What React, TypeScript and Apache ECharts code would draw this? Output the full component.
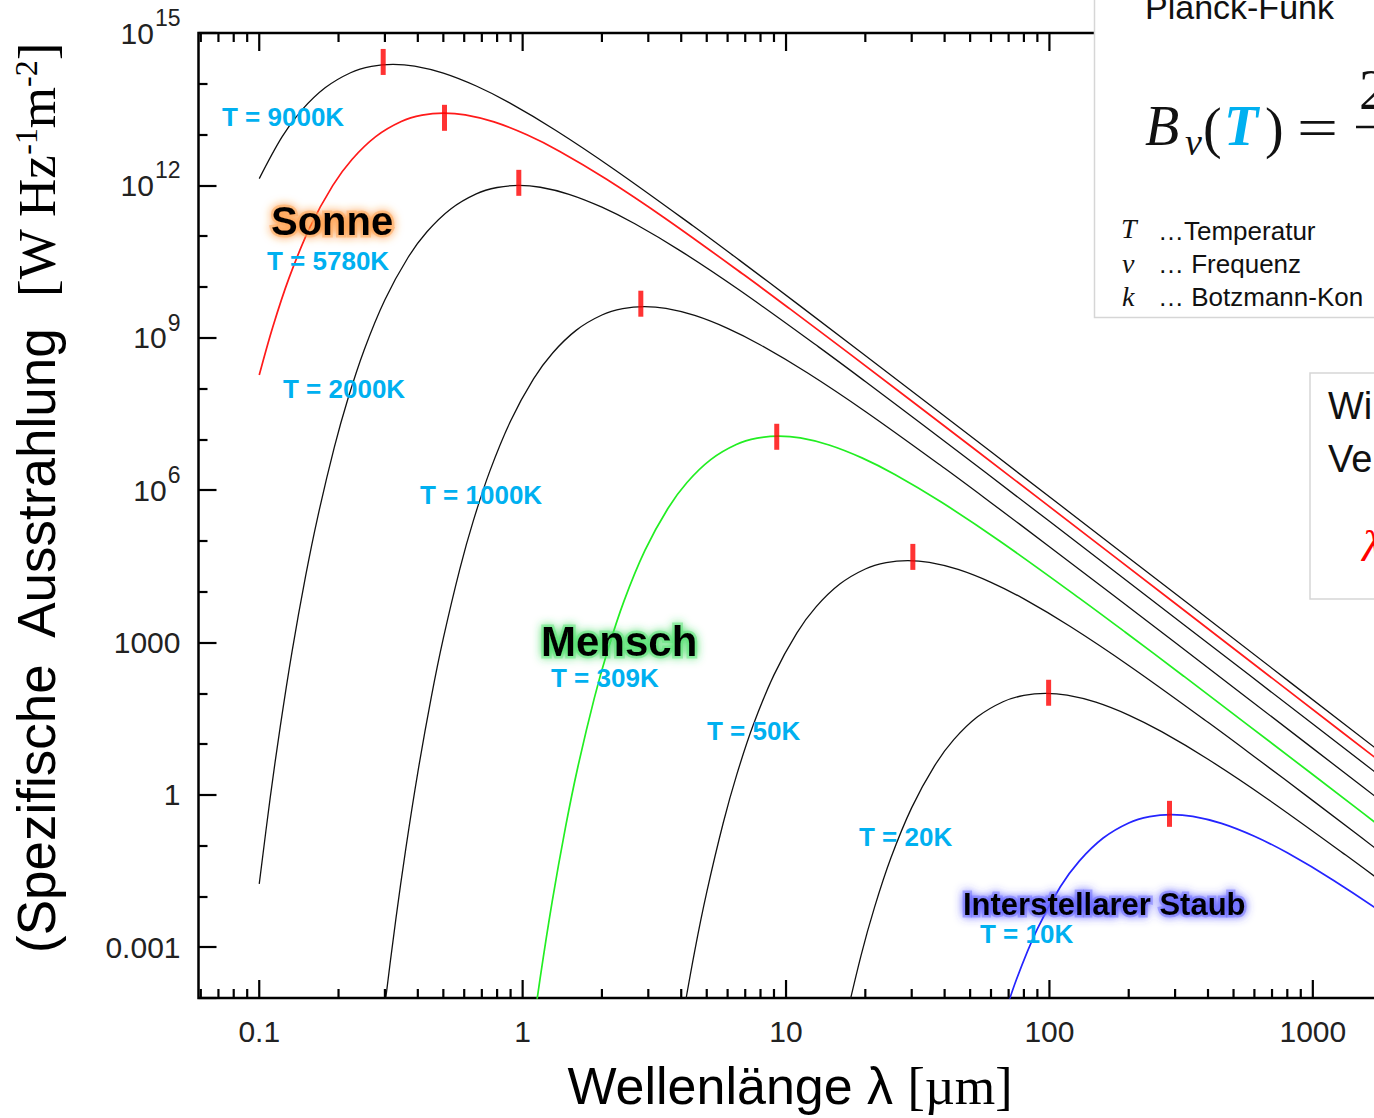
import React, { useEffect, useRef } from 'react';
import * as echarts from 'echarts';

// ---- axis ranges (wavelength in µm, radiance as exponent of 10) ----
const X_RANGE_UM = [0.0588, 3000];
const Y_RANGE_EXP = [-4, 15];

const xTickLabels: Record<string, string> = { '-1': '0.1', '0': '1', '1': '10', '2': '100', '3': '1000' };
const yPlainLabels: Record<string, string> = { '-3': '0.001', '0': '1', '3': '1000' };
const xMajorTicks = [0.1, 1, 10, 100, 1000];
const xMinorTicks = [
  0.06, 0.07, 0.08, 0.09,
  0.2, 0.3, 0.4, 0.5, 0.6, 0.7, 0.8, 0.9,
  2, 3, 4, 5, 6, 7, 8, 9,
  20, 30, 40, 50, 60, 70, 80, 90,
  200, 300, 400, 500, 600, 700, 800, 900,
  2000, 3000,
];

// ---- curves: wavelength (µm) and log10 of spectral radiance ----
const lam9000 = [0.1, 0.1222, 0.1444, 0.1778, 0.2222, 0.2667, 0.3222, 0.3889, 0.5, 0.6667, 0.8889, 1.333, 2.222, 4.444, 6.667, 11.11, 33.33, 111.1, 333.3, 3333];
const logB9000 = [12.133, 12.96, 13.471, 13.921, 14.218, 14.343, 14.383, 14.348, 14.21, 13.956, 13.629, 13.086, 12.319, 11.2, 10.523, 9.657, 7.77, 5.686, 3.78, -0.22];

const lam5780 = [0.1, 0.1125, 0.1298, 0.1557, 0.1903, 0.2249, 0.2768, 0.346, 0.4152, 0.5017, 0.6055, 0.7785, 1.038, 1.384, 2.076, 3.46, 6.92, 10.38, 17.3, 51.9, 173, 519, 5190];
const logB5780 = [8.265, 9.208, 10.179, 11.172, 11.999, 12.51, 12.96, 13.257, 13.382, 13.422, 13.387, 13.249, 12.995, 12.668, 12.125, 11.358, 10.239, 9.562, 8.696, 6.809, 4.725, 2.818, -1.181];

const lam3000 = [0.1, 0.11, 0.12, 0.1333, 0.15, 0.1667, 0.1927, 0.2167, 0.25, 0.3, 0.3667, 0.4333, 0.5333, 0.6667, 0.8, 0.9667, 1.167, 1.5, 2, 2.667, 4, 6.667, 13.33, 20, 33.33, 100, 333.3, 1000, 10000];
const logB3000 = [-1.753, -0.066, 1.323, 2.83, 4.31, 5.47, 6.841, 7.784, 8.755, 9.748, 10.575, 11.086, 11.536, 11.833, 11.958, 11.998, 11.963, 11.825, 11.571, 11.244, 10.701, 9.934, 8.815, 8.138, 7.272, 5.385, 3.301, 1.394, -2.605];

const lam1000 = [0.28, 0.3, 0.33, 0.36, 0.4, 0.45, 0.5, 0.578, 0.65, 0.75, 0.9, 1.1, 1.3, 1.6, 2, 2.4, 2.9, 3.5, 4.5, 6, 8, 12, 20, 40, 60, 100, 300, 1000, 3000];
const logB1000 = [-5.476, -4.139, -2.452, -1.063, 0.444, 1.924, 3.084, 4.455, 5.398, 6.369, 7.362, 8.189, 8.7, 9.15, 9.447, 9.572, 9.612, 9.577, 9.439, 9.185, 8.858, 8.315, 7.548, 6.429, 5.752, 4.886, 2.999, 0.915, -0.992];

const lam309 = [1.068, 1.165, 1.294, 1.456, 1.618, 1.871, 2.104, 2.427, 2.913, 3.56, 4.207, 5.178, 6.472, 7.767, 9.385, 11.33, 14.56, 19.42, 25.89, 38.83, 64.72, 129.4, 194.2, 323.6, 970.9, 3236];
const logB309 = [-5.002, -3.613, -2.106, -0.626, 0.534, 1.905, 2.848, 3.819, 4.812, 5.639, 6.15, 6.6, 6.897, 7.022, 7.062, 7.027, 6.889, 6.635, 6.308, 5.765, 4.998, 3.879, 3.202, 2.336, 0.449, -1.635];

const lam100 = [4, 4.5, 5, 5.78, 6.5, 7.5, 9, 11, 13, 16, 20, 24, 29, 35, 45, 60, 80, 120, 200, 400, 600, 1000, 3000];
const logB100 = [-4.556, -3.076, -1.916, -0.545, 0.398, 1.369, 2.362, 3.189, 3.7, 4.15, 4.447, 4.572, 4.612, 4.577, 4.439, 4.185, 3.858, 3.315, 2.548, 1.429, 0.752, -0.114, -2.001];

const lam30 = [16.67, 19.27, 21.67, 25, 30, 36.67, 43.33, 53.33, 66.67, 80, 96.67, 116.7, 150, 200, 266.7, 400, 666.7, 1333, 2000, 3333];
const logB30 = [-4.53, -3.159, -2.216, -1.245, -0.252, 0.575, 1.086, 1.536, 1.833, 1.958, 1.998, 1.963, 1.825, 1.571, 1.244, 0.701, -0.066, -1.185, -1.862, -2.728];

const lam10 = [65, 75, 90, 110, 130, 160, 200, 240, 290, 350, 450, 600, 800, 1200, 2000, 4000];
const logB10 = [-4.602, -3.631, -2.638, -1.811, -1.3, -0.85, -0.553, -0.428, -0.388, -0.423, -0.561, -0.815, -1.142, -1.685, -2.452, -3.571];

// ---- red peak markers ----
const peakLam = [0.2955, 0.505, 0.967, 2.81, 9.22, 30.3, 99.3, 285.7];
const peakLogB = [14.43, 13.33, 12.05, 9.67, 7.05, 4.685, 2.01, -0.374];

const curveDefs = [
  { name: '9000K', lam: lam9000, logB: logB9000, color: '#111111', width: 1.3 },
  { name: '5780K', lam: lam5780, logB: logB5780, color: '#ff1a1a', width: 1.7 },
  { name: '3000K', lam: lam3000, logB: logB3000, color: '#111111', width: 1.3 },
  { name: '1000K', lam: lam1000, logB: logB1000, color: '#111111', width: 1.3 },
  { name: '309K', lam: lam309, logB: logB309, color: '#22ee22', width: 1.7 },
  { name: '100K', lam: lam100, logB: logB100, color: '#111111', width: 1.3 },
  { name: '30K', lam: lam30, logB: logB30, color: '#111111', width: 1.3 },
  { name: '10K', lam: lam10, logB: logB10, color: '#2424ff', width: 1.7 },
];

const SANS = "'Liberation Sans', Arial, Helvetica, sans-serif";
const SERIF = "'Liberation Serif', 'Times New Roman', serif";
const CYAN = '#00B0F0';

const X_MIN = Math.log10(X_RANGE_UM[0]);
const X_MAX = Math.log10(X_RANGE_UM[1]);

function tickSeries(vals: number[], len: number) {
  return {
    type: 'custom',
    silent: true,
    clip: false,
    z: 4,
    data: vals.map((v) => [Math.log10(v), Y_RANGE_EXP[0]]),
    renderItem: (_p: any, api: any) => {
      const x = api.value(0);
      const b = api.coord([x, Y_RANGE_EXP[0]]);
      const t = api.coord([x, Y_RANGE_EXP[1]]);
      return {
        type: 'group',
        children: [
          { type: 'line', shape: { x1: b[0], y1: b[1], x2: b[0], y2: b[1] - len }, style: { stroke: '#000', lineWidth: 2.2 } },
          { type: 'line', shape: { x1: t[0], y1: t[1], x2: t[0], y2: t[1] + len }, style: { stroke: '#000', lineWidth: 2.2 } },
        ],
      };
    },
  };
}

function txt(text: string, x: number, y: number, font: string, fill: string, extra: any = {}, el: any = {}) {
  return {
    type: 'text',
    x,
    y,
    z: 60,
    silent: true,
    ...el,
    style: {
      text,
      x: 0,
      y: 0,
      font,
      fill,
      align: 'left',
      verticalAlign: 'middle',
      textAlign: 'left',
      textVerticalAlign: 'middle',
      ...extra,
    },
  };
}

function glowText(text: string, x: number, y: number, size: number, glow: string, halo: string) {
  const font = `bold ${size}px ${SANS}`;
  return txt(text, x, y, font, '#000', {
    stroke: halo,
    lineWidth: 5,
    lineHeight: Math.round(size * 0.85),
    textShadowColor: glow,
    textShadowBlur: 10,
    shadowColor: glow,
    shadowBlur: 10,
  });
}

const tLabels = [
  { t: 'T = 9000K', x: 222, y: 117 },
  { t: 'T = 5780K', x: 267, y: 261 },
  { t: 'T = 2000K', x: 283, y: 389 },
  { t: 'T = 1000K', x: 420, y: 495 },
  { t: 'T = 309K', x: 551, y: 678 },
  { t: 'T = 50K', x: 707, y: 731 },
  { t: 'T = 20K', x: 859, y: 837 },
  { t: 'T = 10K', x: 980, y: 934 },
];

function buildGraphic() {
  const g: any[] = [];
  g.push(glowText('Sonne', 271, 221, 40, '#ff8a20', 'rgba(255,170,90,0.55)'));
  g.push(glowText('Mensch', 541, 641, 42, '#2fd850', 'rgba(90,230,120,0.5)'));
  g.push(glowText('Interstellarer Staub', 963, 904, 31, '#4040ff', 'rgba(110,110,255,0.5)'));
  tLabels.forEach((l) => g.push(txt(l.t, l.x, l.y, `bold 26px ${SANS}`, CYAN, { lineHeight: 24 })));

  // Planck box
  g.push({ type: 'rect', z: 50, silent: true, shape: { x: 1094.5, y: -10, width: 420, height: 327.5 }, style: { fill: '#fff', stroke: '#d6d6d6', lineWidth: 1.5 } });
  g.push(txt('Planck-Funk', 1145, 7, `34px ${SANS}`, '#111'));
  g.push(txt('B', 1145, 126, `italic 56px ${SERIF}`, '#111'));
  g.push(txt('ν', 1185, 142, `italic 38px ${SERIF}`, '#111'));
  g.push(txt('(', 1203, 128, `56px ${SERIF}`, '#111'));
  g.push(txt('T', 1224, 126, `italic bold 56px ${SERIF}`, CYAN));
  g.push(txt(')', 1265, 128, `56px ${SERIF}`, '#111'));
  g.push(txt('=', 1297, 128, `56px ${SERIF}`, '#111', {}, { scaleX: 1.3 }));
  g.push(txt('2', 1359, 90, `56px ${SERIF}`, '#111'));
  g.push({ type: 'line', z: 60, silent: true, shape: { x1: 1356, y1: 127, x2: 1520, y2: 127 }, style: { stroke: '#111', lineWidth: 2.5 } });
  g.push(txt('T', 1121, 228, `italic 28px ${SERIF}`, '#111'));
  g.push(txt('…Temperatur', 1158, 231, `26px ${SANS}`, '#111'));
  g.push(txt('ν', 1122, 263, `italic 28px ${SERIF}`, '#111'));
  g.push(txt('… Frequenz', 1158, 264, `26px ${SANS}`, '#111'));
  g.push(txt('k', 1122, 296, `italic 28px ${SERIF}`, '#111'));
  g.push(txt('… Botzmann-Kon', 1158, 297, `26px ${SANS}`, '#111'));

  // Wien box
  g.push({ type: 'rect', z: 50, silent: true, shape: { x: 1310, y: 373, width: 300, height: 226 }, style: { fill: '#fff', stroke: '#d6d6d6', lineWidth: 1.5 } });
  g.push(txt('Wi', 1328, 406, `38px ${SANS}`, '#111'));
  g.push(txt('Ve', 1328, 459, `38px ${SANS}`, '#111'));
  g.push(txt('λ', 1362, 546, `italic 44px ${SERIF}`, '#ff0000'));
  return g;
}

export default function App() {
  const ref = useRef<HTMLDivElement>(null);

  useEffect(() => {
    document.body.style.margin = '0';
    document.body.style.background = '#fff';
    const chart = echarts.init(ref.current!, null, { renderer: 'svg' });

    const lineSeries = curveDefs.map((c) => ({
      type: 'line',
      name: c.name,
      data: c.lam.map((l, i) => [Math.log10(l), c.logB[i]]),
      showSymbol: false,
      smooth: 0.35,
      clip: true,
      silent: true,
      z: 3,
      lineStyle: { color: c.color, width: c.width },
      emphasis: { disabled: true },
    }));

    const option: any = {
      animation: false,
      backgroundColor: '#fff',
      grid: { left: 198.5, top: 33, width: 1240, height: 965, show: true, borderColor: '#000', borderWidth: 2.5, backgroundColor: 'transparent', containLabel: false },
      xAxis: {
        type: 'value',
        min: X_MIN,
        max: X_MAX,
        splitNumber: 5,
        minInterval: 1,
        maxInterval: 1,
        splitLine: { show: false },
        axisLine: { show: false, onZero: false },
        axisTick: { show: false },
        axisLabel: {
          show: true,
          interval: 0,
          margin: 18,
          showMinLabel: false,
          showMaxLabel: false,
          fontSize: 30,
          fontFamily: SANS,
          color: '#222',
          formatter: (v: number) => xTickLabels[String(Math.round(v))] ?? '',
        },
        name: '{a|Wellenlänge λ }{b|[µm]}',
        nameLocation: 'middle',
        nameGap: 62,
        nameTextStyle: {
          padding: [0, 57, 0, 0],
          rich: {
            a: { fontSize: 52, fontFamily: SANS, color: '#000' },
            b: { fontSize: 52, fontFamily: SERIF, color: '#000' },
          },
        },
      },
      yAxis: {
        type: 'value',
        min: Y_RANGE_EXP[0],
        max: Y_RANGE_EXP[1],
        splitNumber: 6,
        minInterval: 3,
        maxInterval: 3,
        splitLine: { show: false },
        axisLine: { show: false, onZero: false },
        axisTick: { show: true, inside: true, length: 18, lineStyle: { color: '#000', width: 2.2 } },
        minorTick: { show: true, splitNumber: 3, length: 9, lineStyle: { color: '#000', width: 2.2 } },
        minorSplitLine: { show: false },
        axisLabel: {
          show: true,
          margin: 18,
          showMinLabel: false,
          fontSize: 30,
          fontFamily: SANS,
          color: '#222',
          formatter: (v: number) => {
            const k = String(Math.round(v));
            if (yPlainLabels[k] !== undefined) return yPlainLabels[k];
            return `{b|10}{s|${k}}`;
          },
          rich: {
            b: { fontSize: 30, fontFamily: SANS, color: '#222' },
            s: { fontSize: 23, fontFamily: SANS, color: '#222', verticalAlign: 'top', padding: [0, 0, 30, 1] },
          },
        },
        name: '{a|(Spezifische  Ausstrahlung  }{b|[W Hz}{s|-1}{b|m}{s|-2}{b|]}',
        nameLocation: 'middle',
        nameGap: 135,
        nameTextStyle: {
          padding: [0, 0, 0, 34],
          rich: {
            a: { fontSize: 53, fontFamily: SANS, color: '#000' },
            b: { fontSize: 53, fontFamily: SERIF, color: '#000' },
            s: { fontSize: 32, fontFamily: SERIF, color: '#000', verticalAlign: 'top', padding: [0, 0, 22, 0] },
          },
        },
      },
      series: [
        ...lineSeries,
        tickSeries(xMinorTicks, 9),
        tickSeries(xMajorTicks, 18),
        {
          type: 'scatter',
          silent: true,
          z: 6,
          symbol: 'rect',
          symbolSize: [5, 26],
          itemStyle: { color: '#ff0000' },
          data: peakLam.map((l, i) => [Math.log10(l), peakLogB[i]]),
        },
      ],
      graphic: buildGraphic(),
    };

    chart.setOption(option);
    return () => chart.dispose();
  }, []);

  return (
    <div style={{ position: 'absolute', left: 0, top: 0, width: 1374, height: 1118, overflow: 'hidden', background: '#fff' }}>
      <div ref={ref} style={{ width: 1460, height: 1118 }} />
    </div>
  );
}
